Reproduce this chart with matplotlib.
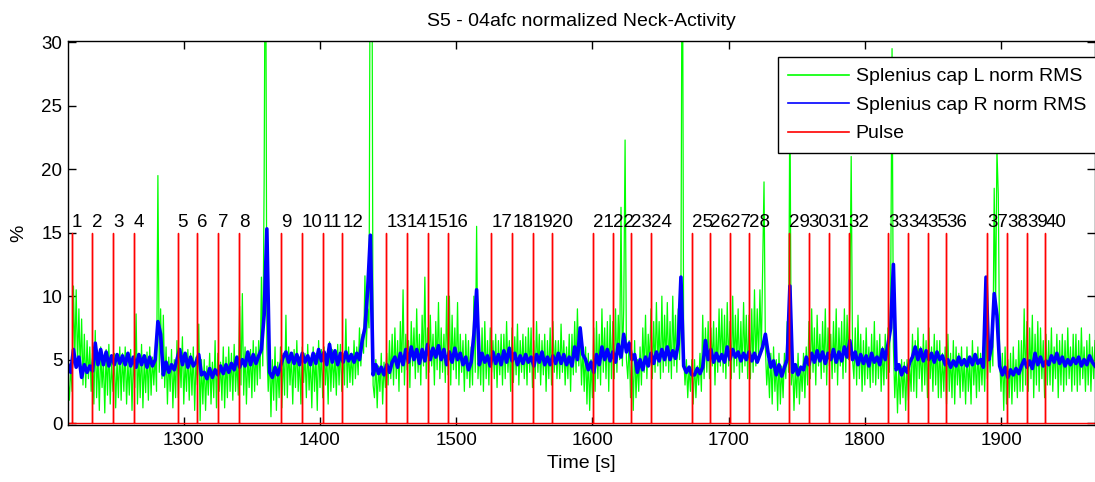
import numpy as np
import matplotlib
matplotlib.use("Agg")
import matplotlib.pyplot as plt

plt.rcParams['font.family'] = ['Liberation Sans', 'DejaVu Sans']
plt.rcParams['font.size'] = 13.5

t0 = 1215

# left splenius capitis, one value per second from t0
green = [
    3.5, 1.8, 4.5, 2.5, 10.8, 5.0, 10.5, 4.5, 9.0, 4.0, 8.2, 3.0, 7.0, 2.8, 6.5, 3.5, 6.0, 2.5, 5.5, 1.5,
    7.3, 2.0, 5.5, 1.0, 6.0, 2.8, 5.0, 0.8, 5.8, 2.2, 6.2, 1.5, 4.8, 2.5, 5.5, 1.2, 5.0, 2.0, 6.0, 1.8,
    5.5, 2.5, 6.0, 1.5, 4.8, 2.2, 5.8, 1.0, 5.2, 2.8, 8.6, 1.5, 5.5, 2.0, 6.2, 1.2, 5.0, 2.4, 5.6, 1.8,
    6.0, 2.2, 5.2, 3.0, 5.5, 2.5, 19.5, 4.0, 9.0, 3.5, 8.5, 2.8, 6.0, 1.5, 5.2, 2.5, 5.8, 1.2, 5.0, 2.0,
    6.5, 2.0, 5.5, 2.8, 6.8, 1.5, 5.0, 2.5, 5.8, 1.8, 5.5, 2.2, 6.0, 1.0, 5.2, 3.0, 7.8, 0.2, 5.0, 1.5,
    5.0, 1.0, 4.5, 2.2, 5.5, 1.5, 4.8, 2.0, 6.5, 1.2, 5.5, 2.5, 4.8, 1.8, 6.0, 1.2, 5.2, 2.0, 6.0, 2.5,
    5.5, 1.8, 6.2, 2.5, 5.0, 2.2, 9.2, 3.0, 10.2, 2.2, 6.0, 1.5, 5.5, 2.8, 5.8, 2.0, 6.5, 2.5, 6.0, 3.0,
    6.5, 3.5, 11.5, 4.5, 19.0, 45.0, 6.0, 2.5, 5.5, 0.5, 5.0, 1.8, 6.0, 1.0, 4.8, 2.0, 6.0, 1.2, 5.5, 2.2,
    8.5, 2.0, 6.0, 3.0, 5.5, 1.5, 5.8, 2.8, 6.5, 2.5, 5.2, 1.5, 6.0, 3.2, 5.5, 2.0, 6.2, 2.6, 5.0, 1.2,
    6.0, 2.5, 5.5, 1.0, 6.5, 2.8, 5.8, 2.0, 6.0, 3.0, 5.5, 1.5, 6.4, 2.5, 5.8, 2.8, 5.5, 2.2, 6.2, 3.0,
    6.2, 2.5, 5.5, 3.0, 8.2, 2.8, 6.0, 3.2, 5.5, 3.0, 6.5, 3.5, 6.0, 3.8, 7.5, 4.5, 7.0, 5.5, 11.6, 6.0,
    9.0, 7.5, 45.0, 45.0, 3.0, 2.0, 5.0, 1.2, 4.5, 2.5, 5.5, 1.5, 4.8, 2.8, 5.5, 3.0, 6.5, 3.5, 7.0, 3.0,
    7.5, 3.5, 6.5, 2.5, 8.0, 4.0, 10.5, 3.0, 7.0, 4.2, 6.5, 2.8, 8.0, 4.5, 7.5, 3.5, 9.0, 4.0, 7.0, 3.0,
    8.5, 4.5, 11.5, 3.5, 7.5, 4.0, 8.5, 4.5, 7.0, 3.0, 8.0, 4.2, 9.5, 3.5, 7.5, 4.0, 7.0, 3.2, 10.0, 3.8,
    10.0, 3.0, 8.5, 4.2, 7.5, 3.5, 9.5, 3.0, 7.0, 4.0, 6.5, 2.5, 7.0, 3.5, 6.5, 2.8, 6.0, 3.0, 10.0, 4.0,
    15.5, 3.5, 6.0, 3.0, 7.5, 2.5, 8.0, 3.5, 6.5, 3.0, 7.5, 4.0, 6.5, 3.5, 7.0, 2.8, 6.5, 3.8, 7.0, 3.0,
    7.0, 3.5, 8.0, 4.0, 6.5, 2.5, 7.5, 3.2, 6.8, 3.8, 7.8, 3.0, 6.5, 4.0, 7.0, 3.5, 6.8, 3.0, 7.5, 4.0,
    7.5, 2.8, 6.5, 3.5, 8.0, 4.0, 7.0, 3.0, 6.5, 3.8, 7.0, 2.5, 6.5, 3.5, 7.5, 3.0, 8.0, 4.0, 6.5, 3.5,
    6.5, 3.5, 7.8, 4.0, 6.5, 3.0, 6.0, 3.5, 7.0, 2.5, 7.0, 3.8, 8.0, 4.0, 9.0, 4.5, 7.0, 3.0, 6.0, 2.5,
    6.0, 1.5, 5.5, 1.0, 5.0, 2.0, 7.5, 2.5, 8.0, 3.5, 7.0, 3.0, 9.0, 4.0, 7.5, 3.5, 8.0, 2.5, 8.5, 3.5,
    8.0, 3.5, 9.0, 4.0, 8.5, 5.0, 17.0, 4.5, 9.0, 22.3, 5.0, 3.5, 6.5, 2.0, 5.5, 1.0, 6.5, 2.0, 5.0, 2.5,
    6.0, 3.0, 7.5, 4.0, 8.5, 3.5, 7.0, 4.5, 9.0, 3.5, 8.0, 4.0, 9.5, 4.5, 8.0, 3.5, 10.0, 4.0, 8.5, 4.5,
    9.5, 4.0, 8.0, 3.5, 10.0, 4.5, 8.5, 4.0, 9.0, 5.0, 10.0, 45.0, 5.5, 3.0, 5.0, 2.0, 4.5, 2.5, 5.0, 1.5,
    5.0, 2.0, 4.5, 3.0, 5.5, 2.5, 8.5, 3.5, 7.5, 4.0, 8.0, 3.5, 7.5, 4.5, 8.0, 3.0, 7.5, 4.0, 9.0, 4.5,
    9.0, 4.0, 8.5, 3.5, 9.5, 4.5, 8.0, 3.5, 10.0, 4.0, 8.5, 4.5, 9.0, 3.5, 8.0, 4.0, 9.5, 4.5, 8.5, 3.5,
    8.5, 3.5, 9.0, 4.0, 10.5, 4.5, 9.0, 5.0, 10.5, 5.5, 12.0, 19.0, 6.0, 3.0, 5.0, 2.0, 5.5, 1.5, 6.0, 2.5,
    5.0, 1.0, 5.5, 1.5, 4.5, 2.0, 5.5, 3.5, 8.0, 4.0, 27.0, 3.0, 5.0, 1.0, 4.5, 2.0, 5.5, 1.5, 4.5, 2.5,
    5.5, 2.0, 6.0, 3.0, 8.0, 3.5, 9.0, 4.0, 7.5, 3.0, 8.5, 4.5, 7.0, 3.5, 8.0, 4.0, 9.0, 3.0, 7.5, 4.5,
    7.0, 3.5, 8.0, 4.0, 9.0, 3.0, 7.5, 4.5, 8.0, 3.5, 9.0, 4.0, 8.5, 5.0, 9.0, 21.0, 5.0, 3.5, 7.5, 3.0,
    8.5, 3.5, 7.0, 2.5, 6.5, 3.0, 7.5, 3.5, 6.0, 2.8, 7.0, 3.2, 8.0, 3.0, 6.5, 3.5, 7.0, 2.5, 6.0, 3.0,
    7.0, 3.5, 7.5, 4.0, 10.5, 29.5, 6.0, 2.0, 5.0, 0.8, 4.5, 1.5, 5.0, 2.0, 4.8, 1.0, 5.0, 1.8, 4.5, 2.5,
    7.0, 2.5, 6.5, 2.0, 7.5, 3.5, 6.0, 2.5, 7.0, 3.0, 6.5, 2.0, 7.5, 3.5, 6.0, 2.5, 7.0, 3.0, 6.5, 2.0,
    6.5, 2.0, 5.5, 2.5, 6.0, 1.5, 7.0, 2.5, 5.5, 2.0, 6.5, 1.5, 6.0, 3.0, 5.5, 2.0, 6.0, 2.5, 5.0, 1.5,
    6.0, 2.5, 5.0, 1.5, 6.5, 3.0, 5.5, 2.0, 6.0, 2.5, 5.5, 3.0, 6.0, 2.5, 7.0, 3.5, 6.5, 4.0, 7.0, 4.5,
    18.5, 9.0, 21.5, 18.0, 5.0, 2.5, 5.5, 1.0, 6.0, 1.5, 5.0, 2.0, 5.5, 1.5, 6.0, 2.5, 5.0, 2.0, 6.5, 2.5,
    6.5, 2.5, 9.0, 3.0, 8.0, 2.5, 7.5, 3.5, 8.5, 2.0, 7.0, 3.0, 8.0, 2.5, 7.5, 3.5, 6.5, 2.0, 7.0, 3.0,
    6.5, 3.0, 7.5, 2.5, 6.0, 3.5, 7.0, 2.0, 6.5, 3.0, 7.0, 2.5, 6.5, 3.0, 7.5, 3.5, 6.0, 2.5, 7.0, 3.0,
    7.0, 2.5, 6.5, 3.0, 7.5, 3.5, 6.0, 2.5, 6.5, 3.0, 7.0, 2.5, 6.0, 3.5, 6.5,
]

# right splenius capitis, one value every 2 s from t0
blue = [
    4.6, 4.0, 5.8, 4.4, 5.2, 3.6, 4.6, 4.0, 4.5, 4.1,
    6.3, 4.6, 5.8, 4.6, 5.6, 4.5, 5.3, 4.6, 5.4, 4.7,
    5.3, 4.6, 5.5, 4.5, 5.2, 4.4, 5.4, 4.6, 5.3, 4.4,
    5.2, 4.5, 5.0, 8.0, 7.0, 3.8, 4.8, 4.0, 4.6, 4.2,
    5.0, 5.8, 4.6, 5.5, 4.4, 5.2, 4.5, 4.8, 5.4, 3.8,
    4.0, 3.5, 4.3, 3.6, 4.2, 3.8, 4.5, 3.9, 4.6, 4.0,
    4.7, 4.2, 5.2, 4.4, 5.0, 4.5, 5.6, 4.6, 5.4, 4.7,
    5.3, 5.8, 8.5, 15.3, 4.0, 3.6, 4.4, 3.8, 4.5, 5.2,
    5.6, 4.8, 5.5, 4.7, 5.4, 4.6, 5.5, 4.8, 5.3, 4.6,
    5.5, 4.7, 5.8, 4.9, 5.6, 4.6, 6.2, 4.8, 5.7, 4.6,
    5.5, 4.8, 5.6, 4.9, 5.4, 4.8, 5.5, 5.0, 6.5, 7.5,
    10.5, 14.8, 3.8, 4.6, 3.9, 4.4, 3.8, 4.6, 4.0, 4.8,
    5.2, 4.4, 5.5, 4.6, 5.8, 4.8, 6.0, 5.0, 5.8, 4.7,
    5.8, 4.9, 6.2, 5.0, 5.9, 5.2, 6.1, 5.0, 5.8, 4.6,
    5.6, 4.8, 5.9, 5.0, 5.5, 4.6, 5.2, 4.2, 4.8, 7.0,
    10.5, 4.6, 5.5, 4.8, 5.3, 4.5, 5.6, 4.7, 5.4, 4.6,
    5.7, 4.8, 5.9, 4.9, 5.5, 4.6, 5.3, 4.7, 5.4, 4.8,
    5.2, 4.5, 5.4, 4.8, 5.6, 4.6, 5.2, 4.6, 5.3, 4.7,
    5.5, 4.7, 5.4, 4.6, 5.2, 4.5, 6.0, 5.0, 7.5, 5.4,
    5.0, 4.2, 4.8, 4.0, 5.4, 4.6, 6.0, 5.0, 5.8, 4.9,
    5.6, 4.8, 6.2, 5.2, 7.0, 5.6, 6.3, 5.0, 5.4, 4.0,
    5.0, 4.2, 5.2, 4.5, 5.5, 4.7, 5.6, 4.9, 5.8, 5.0,
    6.0, 5.0, 5.7, 5.1, 6.2, 11.5, 4.5, 4.0, 4.4, 3.8,
    3.8, 4.3, 3.9, 4.4, 6.5, 5.0, 5.8, 4.8, 5.5, 4.9,
    5.4, 4.8, 6.0, 5.0, 5.8, 5.2, 5.6, 4.9, 5.5, 5.0,
    5.6, 4.9, 5.5, 4.8, 5.4, 6.0, 7.0, 5.5, 4.4, 4.9,
    3.8, 4.6, 3.7, 4.4, 5.0, 10.8, 4.0, 4.6, 3.8, 4.4,
    4.2, 5.2, 4.6, 5.5, 4.8, 5.7, 4.9, 5.6, 4.7, 5.5,
    5.0, 5.8, 4.8, 5.6, 4.9, 6.0, 5.2, 6.5, 5.0, 5.6,
    4.6, 5.4, 4.7, 5.3, 4.5, 5.5, 4.8, 5.2, 4.6, 5.8,
    5.0, 6.2, 7.5, 12.5, 4.2, 4.6, 3.8, 4.4, 4.0, 4.8,
    5.2, 6.0, 5.0, 5.8, 4.9, 5.7, 5.0, 5.5, 4.8, 5.6,
    5.0, 5.3, 4.6, 5.0, 4.4, 4.9, 4.5, 5.2, 4.6, 5.0,
    4.5, 5.2, 4.6, 5.4, 4.7, 5.0, 4.4, 11.5, 5.0, 6.0,
    10.2, 8.5, 4.5, 3.8, 4.4, 3.6, 4.2, 3.8, 4.3, 3.9,
    4.5, 5.0, 4.4, 4.9, 4.3, 5.5, 4.6, 5.2, 4.5, 4.9,
    4.6, 5.3, 4.8, 5.5, 4.7, 5.2, 4.5, 5.0, 4.6, 5.1,
    4.7, 5.2, 4.5, 5.0, 4.6, 5.3, 4.8, 4.5,
]

pulse_times = [1218.0, 1232.7, 1248.1, 1263.5, 1295.4, 1309.8, 1325.2, 1340.6,
               1371.2, 1386.8, 1402.2, 1416.4, 1448.7, 1463.8, 1479.2, 1493.9,
               1525.7, 1541.2, 1556.3, 1570.5, 1600.3, 1615.0, 1628.5, 1642.8,
               1672.9, 1686.4, 1701.1, 1715.3, 1744.6, 1758.8, 1773.4, 1788.1,
               1817.0, 1831.7, 1846.1, 1859.6, 1889.7, 1904.3, 1919.0, 1932.4]
pulse_labels = [str(i + 1) for i in range(len(pulse_times))]
pulse_height = 15

t_green = t0 + np.arange(len(green))
t_blue = t0 + 2 * np.arange(len(blue))

# pulse trace: 0 baseline with a jump to pulse_height at each pulse
px = [t_green[0]]
py = [0]
for p in pulse_times:
    px += [p, p, p]
    py += [0, pulse_height, 0]
px.append(t_green[-1])
py.append(0)

fig = plt.figure(figsize=(10.95, 4.82), dpi=100)
ax = fig.add_axes([68 / 1095, 57 / 482, 1027 / 1095, 384 / 482])

ax.plot(t_green, green, color=(0, 1, 0), lw=0.9, label='Splenius cap L norm RMS')
ax.plot(t_blue, blue, color=(0, 0, 1), lw=2.6, label='Splenius cap R norm RMS')
ax.plot(px, py, color=(1, 0, 0), lw=1.0, label='Pulse')

for p, lab in zip(pulse_times, pulse_labels):
    ax.text(p, pulse_height + 0.1, lab, ha='left', va='bottom', fontsize=13.5)

ax.set_xlim(1215, 1969)
ax.set_ylim(-0.15, 30.1)
ax.set_xticks([1300, 1400, 1500, 1600, 1700, 1800, 1900])
ax.set_yticks([0, 5, 10, 15, 20, 25, 30])
ax.tick_params(direction='in', top=True, right=True, length=6, width=1)
ax.tick_params(axis='x', pad=5)
ax.tick_params(axis='y', pad=4)
for s in ax.spines.values():
    s.set_linewidth(1)

ax.set_title('S5 - 04afc normalized Neck-Activity', fontsize=14, pad=11)
ax.set_xlabel('Time [s]', fontsize=14, labelpad=4)
ax.set_ylabel('%', fontsize=14, labelpad=10)

leg = ax.legend(loc='upper left', bbox_to_anchor=(0.691, 0.958), fancybox=False,
                edgecolor='black', framealpha=1, fontsize=14, borderpad=0.55,
                labelspacing=0.56, handlelength=3.1, handletextpad=0.36,
                borderaxespad=0)
leg.get_frame().set_linewidth(1)
for h in leg.get_lines():
    h.set_linewidth(1.2)

fig.savefig('out.png', dpi=100)
